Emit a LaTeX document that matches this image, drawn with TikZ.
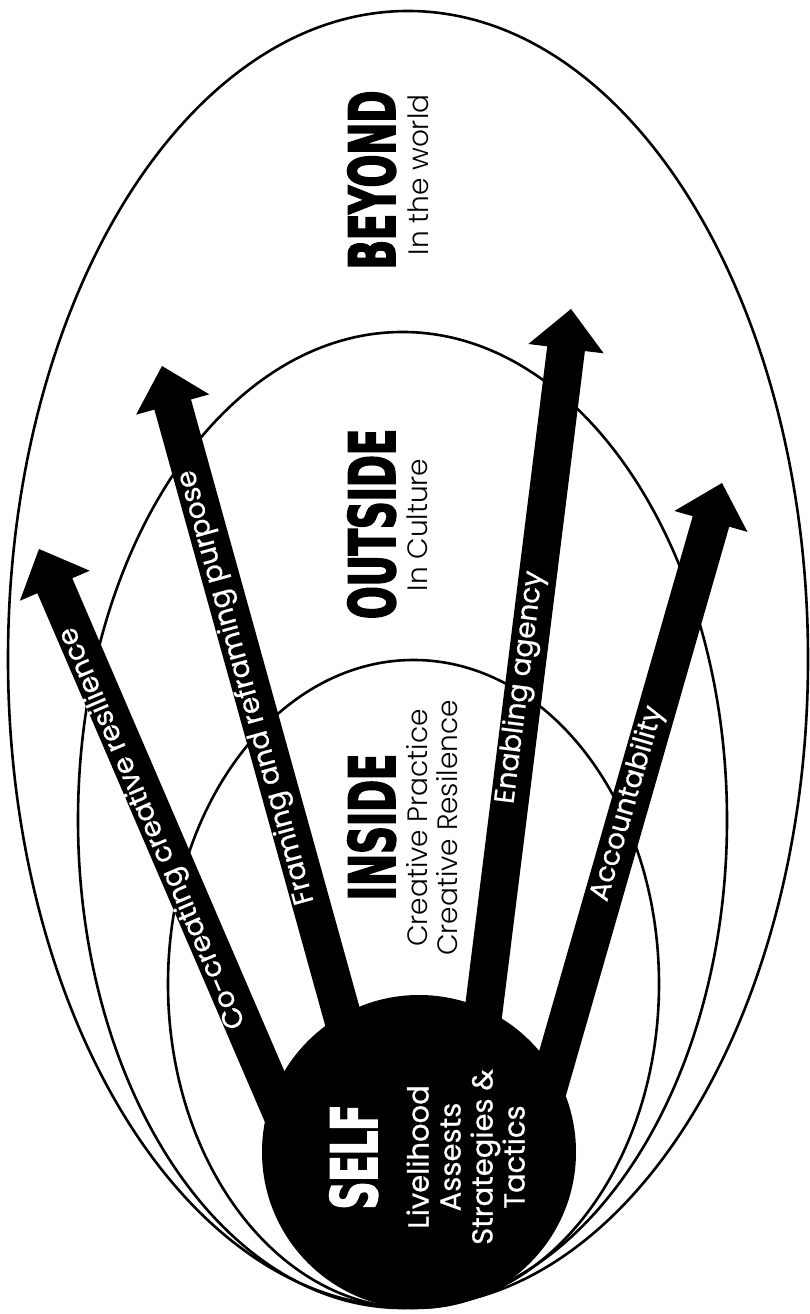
\documentclass[tikz,border=0pt]{standalone}
\usepackage{fontspec}
\setmainfont{Poppins}
\newfontfamily\headfont[FakeStretch=0.6,FakeBold=2.5]{DejaVu Sans}
\newfontfamily\labfont[FakeBold=0.7]{Poppins}
\newfontfamily\thinfont{Poppins Light}
\usepackage{tikz}
\usetikzlibrary{calc}
\tikzset{
  ring/.style={draw=black,line width=2.6pt},
  selfdisc/.style={circle,fill=black,minimum size=314pt,inner sep=0pt},
  bigtitle/.style={rotate=90,anchor=base,inner sep=0pt,font=\headfont\bfseries\fontsize{64}{64}\selectfont},
  subtitle/.style={rotate=90,inner sep=0pt,align=center,font=\thinfont\fontsize{28}{30}\selectfont},
  arlabel/.style={anchor=mid,inner sep=0pt,text=white,font=\labfont\fontsize{28}{28}\selectfont}
}
% fat arrow: shaft 38pt, head 76pt wide and 40pt long
\newcommand\bigarrow[2]{%
  \coordinate (#2-hb) at ($(#2)!40pt!(#1)$);
  \fill ($(#1)!19pt!90:(#2)$) -- ($(#2-hb)!19pt!90:(#2)$) -- ($(#2-hb)!38pt!90:(#2)$) -- (#2)
    -- ($(#2-hb)!38pt!-90:(#2)$) -- ($(#2-hb)!19pt!-90:(#2)$) -- ($(#1)!19pt!-90:(#2)$) -- cycle;}
\begin{document}
\begin{tikzpicture}[x=1pt,y=1pt]
\useasboundingbox (0,0) rectangle (810,1314);
% the three rings
\draw[ring] (408,655) ellipse [x radius=400,y radius=648];
\draw[ring] (402.5,494) ellipse [x radius=324.5,y radius=488];
\draw[ring] (413.5,330) ellipse [x radius=245.5,y radius=324];
% self
\node[selfdisc] (self) at (419,162) {};
% arrows out of self
\coordinate (baseA) at (289,184); \coordinate (tipA) at (39,765);
\coordinate (baseB) at (360,234); \coordinate (tipB) at (162,948);
\coordinate (baseC) at (477.5,254); \coordinate (tipC) at (571,1005);
\coordinate (baseD) at (542,204); \coordinate (tipD) at (722,831);
\bigarrow{baseA}{tipA}
\bigarrow{baseB}{tipB}
\bigarrow{baseC}{tipC}
\bigarrow{baseD}{tipD}
\node[arlabel,rotate=113.3] (labA) at (157,488) {Co-creating creative resilience};
\node[arlabel,rotate=105.5] (labB) at (251,628) {Framing and reframing purpose};
\node[arlabel,rotate=82.9] (labC) at (525,626) {Enabling agency};
\node[arlabel,rotate=74] (labD) at (632,509) {Accountability};
% titles
\node[bigtitle] (beyond) at (395,1134) {BEYOND};
\node[subtitle,anchor=base] (world) at (428,1139) {In the world};
\node[bigtitle] (outside) at (395,790) {OUTSIDE};
\node[subtitle,anchor=base] (culture) at (427,789) {In Culture};
\node[bigtitle] (inside) at (395,487) {INSIDE};
\node[subtitle,anchor=south] (practice) at (458,486) {Creative Practice\\Creative Resilence};
\node[bigtitle,text=white] (selfname) at (377,157) {SELF};
\node[subtitle,anchor=south,text=white,font=\labfont\fontsize{29}{32}\selectfont] (assets) at (525,157) {Livelihood\\Assests\\Strategies \&\\Tactics};
\end{tikzpicture}
\end{document}
